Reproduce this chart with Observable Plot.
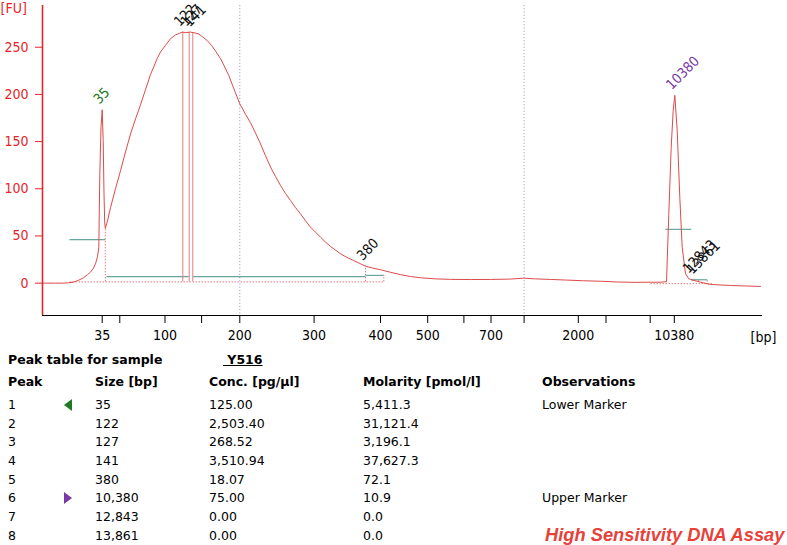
<!DOCTYPE html>
<html><head><meta charset="utf-8">
<script src="https://cdn.jsdelivr.net/npm/d3@7"></script>
<script src="https://cdn.jsdelivr.net/npm/@observablehq/plot@0.6"></script>
<style>
body{margin:0;background:#fff;}
#wrap{position:relative;width:787px;height:545px;overflow:hidden;font-family:"DejaVu Sans",Verdana,sans-serif;}
#chart{position:absolute;left:0;top:0;}
.cell{position:absolute;font-size:12.5px;line-height:16px;height:16px;white-space:nowrap;color:#000;}
.b{font-weight:bold;}
.tri{position:absolute;}
#assay{position:absolute;left:545px;top:524px;font-family:"Liberation Sans",Arial,sans-serif;font-weight:bold;font-style:italic;font-size:18.3px;line-height:22px;color:#e8413a;white-space:nowrap;}
</style></head>
<body><div id="wrap"><div id="chart"></div></div>
<script>
// Ladder (size standard) : base pairs and migration time [s]
const ladderBp   = [35, 50, 100, 150, 200, 300, 400, 500, 600, 700, 1000, 2000, 3000, 7000, 10380];
const ladderTime = [43.17, 44.93, 49.45, 53.11, 56.93, 64.36, 71.0, 75.72, 79.34, 82.05, 85.36, 90.78, 93.55, 97.97, 100.38];
const xTickLabels = [35, 100, 200, 300, 400, 500, 700, 2000, 10380];
const gridBp = [200, 1000];
const yTicks = [0, 50, 100, 150, 200, 250];

// Electropherogram trace: time [s] and fluorescence [FU]
const curveTime = [37.2, 38.5, 39.2, 39.8, 40.3, 40.8, 41.3, 41.7, 42.0, 42.3, 42.5, 42.7, 42.83, 42.93, 43.05, 43.17, 43.27, 43.35, 43.42, 43.48,
  43.7, 44.0, 44.5, 45.0, 45.5, 46.0, 46.5, 47.0, 47.5, 48.0, 48.67, 49.0, 49.5, 50.0, 50.5, 51.17, 51.5, 52.0, 52.5, 52.83,
  53.2, 53.67, 54.1, 54.5, 55.0, 55.33, 55.83, 56.3, 56.93, 57.5, 58.0, 58.5, 59.0, 59.5, 60.0, 60.5, 61.0, 61.5, 62.0, 62.5,
  63.0, 63.5, 64.0, 64.5, 65.0, 65.5, 66.0, 66.5, 67.0, 67.6, 68.3, 69.0, 69.5, 70.2, 71.0, 72.0, 73.0, 74.0, 75.0, 76.5,
  78.0, 80.0, 82.0, 84.0, 85.3, 86.5, 88.0, 89.5, 91.3, 93.0, 94.7, 96.5, 98.0, 99.0, 99.6, 99.83, 100.07, 100.27, 100.43, 100.67,
  100.93, 101.17, 101.5, 101.83, 102.33, 103.0, 104.0, 106.0, 107.5, 109.0];
const curveFU = [0, 0, 0, 0.3, 1, 3, 5.7, 9, 11.7, 16, 20.5, 28, 38, 115, 165, 183.7, 151, 95, 64, 58,
  66, 80, 100, 119, 139, 158, 174, 189, 205, 221, 238, 245, 252, 259, 263, 266, 265.5, 266, 265, 264,
  261, 257, 252, 246, 238, 231, 220, 207, 190, 179, 170, 159, 147.6, 135, 123, 113, 103.5, 95, 87.6, 80,
  73.5, 66, 59.3, 54, 48.7, 43.5, 38.9, 35, 31.1, 27.5, 24, 20.5, 18, 16, 14.2, 11.5, 9, 7, 5.7, 4.5,
  4, 3.8, 3.9, 4.3, 5.3, 4.5, 3.9, 3.3, 2.5, 2, 1.2, 0.8, 1, 1, 1.5, 73, 144, 183, 199, 162,
  91, 38, 10, 4.6, 2.9, 1, -1.4, -2.5, -3, -3.5];

// Peak table
const peakNo       = [1, 2, 3, 4, 5, 6, 7, 8];
const peakBp       = [35, 122, 127, 141, 380, 10380, 12843, 13861];
const peakTime     = [43.17, 51.23, 51.87, 52.23, 69.5, 100.43, 102.1, 102.5];
const peakHeight   = [183.7, 266, 266, 265.5, 18, 199, 4.5, 3.5];
const peakConc     = [125.00, 2503.40, 268.52, 3510.94, 18.07, 75.00, 0.00, 0.00];
const peakMolarity = [5411.3, 31121.4, 3196.1, 37627.3, 72.1, 10.9, 0.0, 0.0];
const peakObs      = ["Lower Marker", "", "", "", "", "Upper Marker", "", ""];
const sampleName = "Y516";

// Integration windows (time) and their level [FU]
const winStart = [39.9, 43.6, 52.27, 69.5, 99.5, 102.17];
const winEnd   = [43.48, 51.83, 69.5, 71.33, 102.07, 103.67];
const winLevel = [46, 6.8, 6.8, 8.2, 57, 3.6];
// Integration baselines
const baseStart = [39.9, 98.0];
const baseEnd   = [71.33, 104.2];
const baseLevel = [1.3, -0.6];
// Window boundary drop lines
const boundTime = [43.48, 69.5, 71.33, 102.17, 102.8, 103.67];
const boundTop  = [58, 18, 8.2, 4.5, 4, 3.6];

const RED = "#e4262c", TEAL = "#67a59e", TRACE = "#dc4a4a", DOT = "#e37b7b";
const xDomain = [37.2, 109.2], yDomain = [-34.3, 294.2];
const timeOfBp = bp => ladderTime[ladderBp.indexOf(bp)];

const curve = curveTime.map((t, i) => ({t, fu: curveFU[i]}));
const peaks = peakBp.map((bp, i) => ({bp, t: peakTime[i], h: peakHeight[i], obs: peakObs[i]}));
const wins = winStart.map((s, i) => ({s, e: winEnd[i], v: winLevel[i]}));
const bases = baseStart.map((s, i) => ({s, e: baseEnd[i], v: baseLevel[i]}));
const bounds = boundTime.map((t, i) => ({t, top: boundTop[i]}));
const labelColor = d => d.obs === "Lower Marker" ? "#1d7a22" : d.obs === "Upper Marker" ? "#7a3aa6" : "#111";

const chart = Plot.plot({
  width: 787, height: 350,
  marginLeft: 42, marginRight: 25, marginTop: 5, marginBottom: 35,
  style: {fontFamily: "'DejaVu Sans Condensed','DejaVu Sans',sans-serif", fontSize: "14px", background: "#fff"},
  x: {domain: xDomain, label: null},
  y: {domain: yDomain, label: null},
  marks: [
    Plot.ruleX(gridBp.map(timeOfBp), {stroke: "#9d9dd4", strokeDasharray: "1.2,2", strokeWidth: 1}),
    Plot.link(bases, {x1: "s", x2: "e", y1: "v", y2: "v", stroke: DOT, strokeDasharray: "1.5,1.5", strokeWidth: 1}),
    Plot.link(wins, {x1: "s", x2: "e", y1: "v", y2: "v", stroke: TEAL, strokeWidth: 1.2}),
    Plot.ruleX(bounds, {x: "t", y1: baseLevel[0], y2: "top", stroke: DOT, strokeDasharray: "1.5,1.5", strokeWidth: 1}),
    Plot.ruleX(peaks.filter(d => d.obs === "" && d.h > 100), {x: "t", y1: baseLevel[0], y2: "h", stroke: DOT, strokeDasharray: (d, i) => i === 0 ? null : "1.5,1", strokeWidth: 1}),
    Plot.line(curve, {x: "t", y: "fu", stroke: TRACE, strokeWidth: 1}),
    Plot.text(peaks, {x: "t", y: "h", text: d => String(d.bp), rotate: -45, textAnchor: "start", lineAnchor: "bottom", dx: -3, dy: -5, fill: labelColor, fontSize: 14}),
    Plot.ruleX([xDomain[0]], {stroke: RED, strokeWidth: 1.6}),
    Plot.ruleY([yDomain[0]], {stroke: "#000", strokeWidth: 1.2}),
    Plot.axisY({ticks: yTicks, tickSize: 7, tickPadding: 7, color: RED, fontSize: 14, label: null}),
    Plot.axisX({ticks: ladderTime, tickSize: 8, tickPadding: 7, fontSize: 14, label: null, stroke: "#000",
      tickFormat: t => { const bp = ladderBp[ladderTime.indexOf(t)]; return xTickLabels.includes(bp) ? String(bp) : ""; }}),
    Plot.text(["[FU]"], {frameAnchor: "top-left", dx: -42, dy: 3, textAnchor: "start", lineAnchor: "middle", fill: RED, fontSize: 14}),
    Plot.text(["[bp]"], {frameAnchor: "bottom-right", dx: -12, dy: 22, textAnchor: "start", lineAnchor: "middle", fill: "#000", fontSize: 14})
  ]
});
document.getElementById("chart").appendChild(chart);

// Peak table (HTML below the SVG)
const wrap = document.getElementById("wrap");
function cell(text, x, cy, bold, extra) {
  const d = document.createElement("div");
  d.className = "cell" + (bold ? " b" : "");
  d.style.left = x + "px"; d.style.top = (cy - 8) + "px";
  d.textContent = text;
  if (extra) Object.assign(d.style, extra);
  wrap.appendChild(d);
  return d;
}
const colX = [8, 95, 209, 363, 542];
cell("Peak table for sample", 8, 360, true);
cell("\u00a0" + sampleName, 223, 360, true, {textDecoration: "underline"});
["Peak", "Size [bp]", "Conc. [pg/\u00b5l]", "Molarity [pmol/l]", "Observations"].forEach((h, j) => cell(h, colX[j], 381.7, true));
const fInt = d3.format(","), f2 = d3.format(",.2f"), f1 = d3.format(",.1f");
peakNo.forEach((n, i) => {
  const cy = 405 + i * 18.67;
  cell(String(n), colX[0], cy);
  cell(fInt(peakBp[i]), colX[1], cy);
  cell(f2(peakConc[i]), colX[2], cy);
  cell(f1(peakMolarity[i]), colX[3], cy);
  cell(peakObs[i], colX[4], cy);
  if (peakObs[i]) {
    const lower = peakObs[i] === "Lower Marker";
    const s = document.createElementNS("http://www.w3.org/2000/svg", "svg");
    s.setAttribute("width", 10); s.setAttribute("height", 12); s.setAttribute("class", "tri");
    s.style.left = "63px"; s.style.top = (cy - 6) + "px";
    const p = document.createElementNS("http://www.w3.org/2000/svg", "polygon");
    p.setAttribute("points", lower ? "9,0 9,12 1,6" : "1,0 1,12 9,6");
    p.setAttribute("fill", lower ? "#1d7a22" : "#7a3aa6");
    s.appendChild(p); wrap.appendChild(s);
  }
});
const a = document.createElement("div");
a.id = "assay"; a.textContent = "High Sensitivity DNA Assay";
wrap.appendChild(a);
</script>
</body></html>
